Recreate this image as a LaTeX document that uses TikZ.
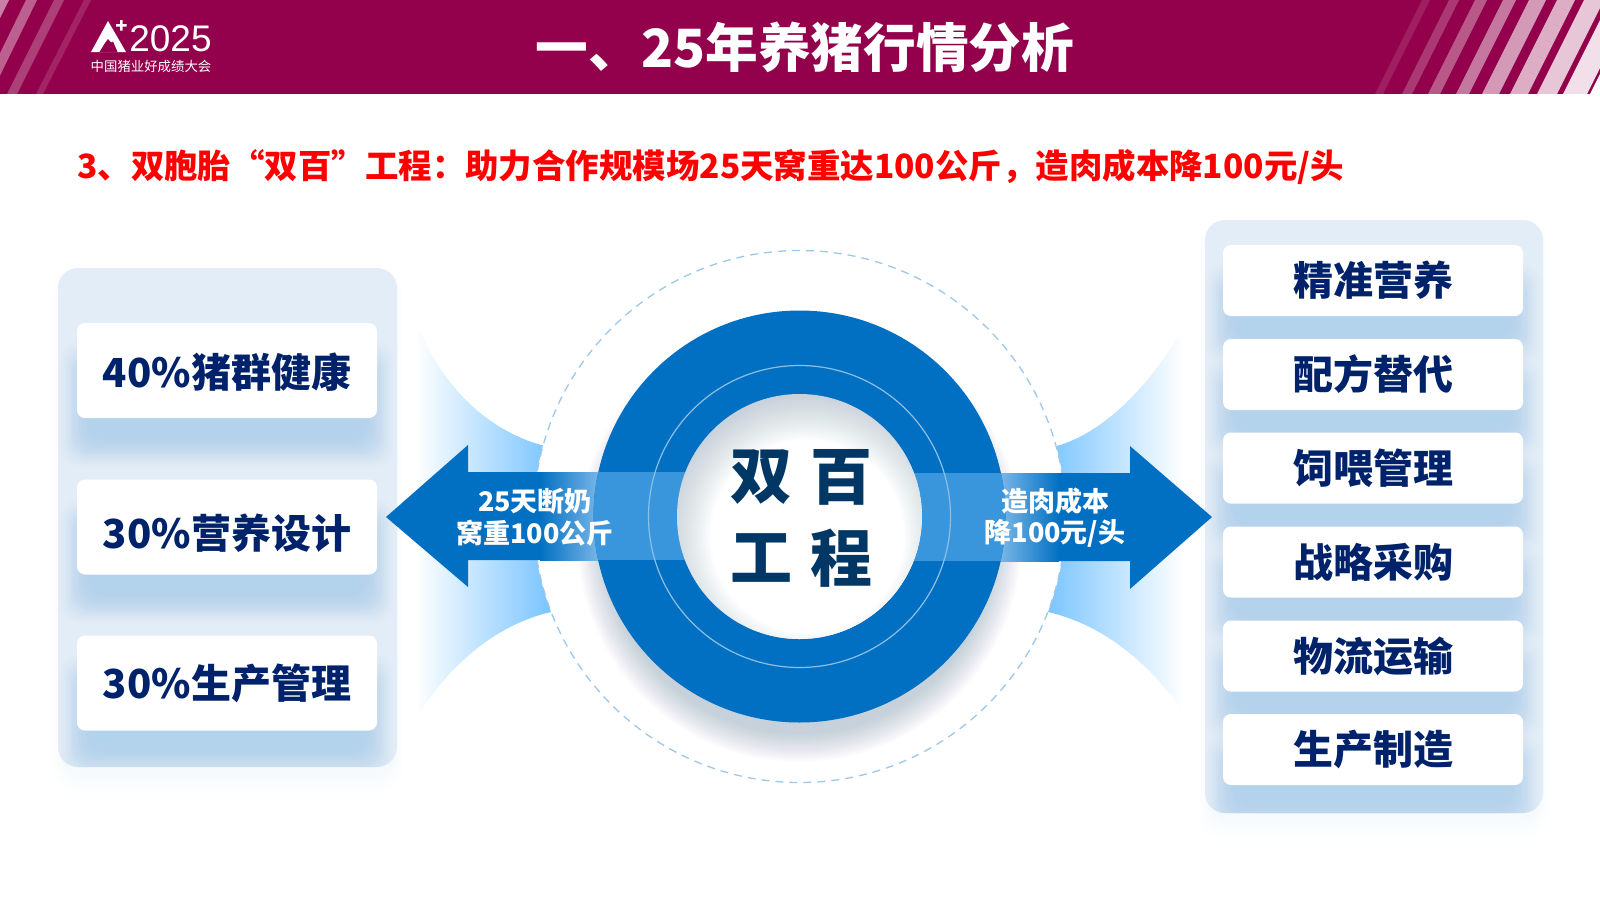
\documentclass[tikz,border=0pt]{standalone}
\usepackage{fontspec}
\setmainfont{Noto Sans CJK SC}
\newfontfamily\logofont{Liberation Sans}
\definecolor{bandred}{HTML}{93004B}
\definecolor{ringblue}{HTML}{0270C2}
\definecolor{panelblue}{HTML}{E3EDF7}
\definecolor{softblue}{HTML}{B3D2EB}
\definecolor{faneblue}{HTML}{78C4FF}
\definecolor{lightshaft}{HTML}{7AB7E8}
\definecolor{overring}{HTML}{3A96DC}
\definecolor{dashblue}{HTML}{9CC8EA}
\definecolor{navytext}{HTML}{00226A}
\definecolor{darktext}{HTML}{003764}
\definecolor{greyshade}{HTML}{C6D1DB}
\tikzset{
	headtitle/.style={text=white,font=\bfseries\fontsize{52.7}{53}\selectfont},
	subhead/.style={text=red,anchor=west,font=\bfseries\fontsize{33.45}{34}\selectfont},
	whitebox/.style={fill=white,rounded corners=8pt,inner sep=0pt,minimum width=300pt,text=navytext,font=\bfseries\fontsize{40}{40}\selectfont},
	panelbox/.style={fill=panelblue,rounded corners=20pt},
	shafttext/.style={text=white,font=\bfseries\fontsize{27}{27}\selectfont},
	coretext/.style={text=darktext,font=\bfseries\fontsize{62}{62}\selectfont},
}
% soft shadow under a box: x1,y1,x2,y2
\newcommand{\softlayers}[4]{
	\foreach \k in {0,...,15}{
		\pgfmathsetmacro{\dd}{2.2*\k}
		\pgfmathsetmacro{\oo}{.025+.02*\k}
		\fill[softblue,opacity=\oo,rounded corners=18pt]
		({#1-18+\dd},{#2+18+\dd}) rectangle ({#3+18-\dd},{#4+50-\dd});
	}
}
\begin{document}
\begin{tikzpicture}[x=1pt,y=-1pt]
	\useasboundingbox (0,0) rectangle (1600,900);
	\fill[bandred] (0,0) rectangle (1600,94);
	% band stripes
	\begin{scope}
		\clip (0,0) rectangle (1600,94);
		\foreach \xa/\xb/\xt/\oo in {-47/-38/9/.5,-20/-9/37/.38,7/17/64/.25,36/43/91/.14}
		\fill[white,opacity=\oo] (\xa,94)--(\xb,94)--(\xt,0)--({\xt-(\xb-\xa)},0)--cycle;
		\foreach \xa/\xb/\oo in {1375/1383/.12,1402/1412/.22,1428/1440/.35,1456/1469/.47,
			1482/1499/.6,1510/1528/.68,1537/1557/.78,1563/1587/.88,1590/1640/1}
		\fill[white,opacity=\oo] (\xa,94)--(\xb,94)--({\xb+47},0)--({\xa+47},0)--cycle;
	\end{scope}
	% logo
	\fill[white] (91,52)--(108,21)--(126,52)--cycle;
	\fill[bandred] (99.5,52)--(105,43)--(108,39)--(111,42.5)--(113,41.5)--(117.5,52)--cycle;
	\fill[white] (120,20)rectangle(122.5,30.5) (116,24)rectangle(126.5,26.5);
	\node (logoyear) at (170.5,38.5) [text=white,inner sep=0pt,font=\logofont\fontsize{37}{37}\selectfont] {2025};
	\node (logoname) at (151,66) [text=white,inner sep=0pt,font=\fontsize{13.4}{13.4}\selectfont] {中国猪业好成绩大会};
	\node (bandtitle) at (805,47) [headtitle] {一、25年养猪行情分析};
	\node (subtitle) at (77,167) [subhead,inner sep=0pt] {3、双胞胎“双百”工程：助力合作规模场25天窝重达100公斤，造肉成本降100元/头};
	% side panels
	\foreach \k in {0,...,9}{
		\fill[softblue,opacity=.012,rounded corners=24pt] ({58-6+\k},{268+\k}) rectangle ({397+6-\k},{767+26-2*\k});
		\fill[softblue,opacity=.012,rounded corners=24pt] ({1205-6+\k},{220+\k}) rectangle ({1543+6-\k},{813+26-2*\k});
	}
	\fill[panelbox] (58,268) rectangle (397,767);
	\fill[panelbox] (1205,220) rectangle (1543,813);
	\begin{scope}
		\clip[rounded corners=20pt] (58,268) rectangle (397,767);
		\foreach \ya/\yb in {323/418,480/574,636/730} {\softlayers{77}{\ya}{377}{\yb}}
	\end{scope}
	\begin{scope}
		\clip[rounded corners=20pt] (1205,220) rectangle (1543,813);
		\foreach \ya in {245,339,433,526,620,714} {\softlayers{1223}{\ya}{1523}{\ya+71}}
	\end{scope}
	\foreach \y/\rr/\texn/\nm in {370.5/-17/40\%猪群健康/a,527/-21/30\%营养设计/b,683/-15/30\%生产管理/c}
	\path (227,\y) node(left\nm)[whitebox,minimum height=95pt]{\raisebox{\rr pt}[0pt][0pt]{\texn}};
	\foreach \y/\texn/\nm in {280.5/精准营养/a,374.5/配方替代/b,468/饲喂管理/c,
		562/战略采购/d,656/物流运输/e,749.5/生产制造/f}
	\path (1373,\y) node(right\nm)[whitebox,minimum height=71pt]{\texn};
	% fans
	\begin{scope}
		\clip (417,323) .. controls (445,395) and (495,432) .. (541,445)--(560,445)--(560,612)--(551,612)
		.. controls (495,625) and (450,665) .. (418,715)--cycle;
		\shade[left color=white,right color=faneblue] (415,320) rectangle (552,720);
	\end{scope}
	\begin{scope}
		\clip (1182,330) .. controls (1150,385) and (1105,432) .. (1057,446)--(1040,446)--(1040,612)--(1048,612)
		.. controls (1105,625) and (1150,665) .. (1182,710)--cycle;
		\shade[left color=faneblue,right color=white] (1045,325) rectangle (1183,715);
	\end{scope}
	% dashed disc
	\fill[white] (799.5,516.5) circle (266);
	\draw[dashblue,line width=1.3pt,dash pattern=on 8pt off 6pt] (799.5,516.5) circle (266);
	\foreach \k in {0,...,19}{
		\pgfmathsetmacro{\oo}{1/(20-\k)}
		\fill[greyshade,opacity=\oo] (799.5,540) circle ({222-1.5*\k});
	}
	% arrows
	\fill[ringblue] (386,517)--(468,445)--(468,472)--(541,472)--(541,560)--(468,560)--(468,587)--cycle;
	\fill[ringblue] (1212,517)--(1130,446)--(1130,473)--(1058,473)--(1058,561)--(1130,561)--(1130,589)--cycle;
	\shade[left color=ringblue,right color=lightshaft] (540,472) rectangle (600,560);
	\shade[left color=lightshaft,right color=ringblue] (1000,473) rectangle (1059,561);
	% ring
	\fill[ringblue] (799.5,516.5) circle (206);
	\begin{scope}
		\clip (799.5,516.5) circle (206);
		\fill[overring] (590,472) rectangle (800,560);
		\fill[overring] (800,473) rectangle (1010,561);
	\end{scope}
	\draw[white!55!ringblue,line width=1.2pt] (799.5,516.5) circle (151);
	\begin{scope}
		\clip (799.5,516.5) circle (122.5);
		\fill[greyshade] (799.5,516.5) circle (123);
		\foreach \k in {0,...,23}{
			\pgfmathsetmacro{\oo}{1/(24-\k)}
			\fill[white,opacity=\oo] (807.5,536.5) circle ({143-2*\k});
		}
	\end{scope}
	\foreach \x/\y/\texn/\nm in {761/477/双/a,841/477/百/b,761/558/工/c,841/558/程/d}
	\path (\x,\y) node(core\nm)[coretext]{\texn};
	\foreach \x/\y/\texn/\nm in {535/501/25天断奶/a,535/533/窝重100公斤/b,1055/501/造肉成本/c,1055/533/{降100元/头}/d}
	\path (\x,\y) node(shaft\nm)[shafttext]{\texn};
\end{tikzpicture}
\end{document}
